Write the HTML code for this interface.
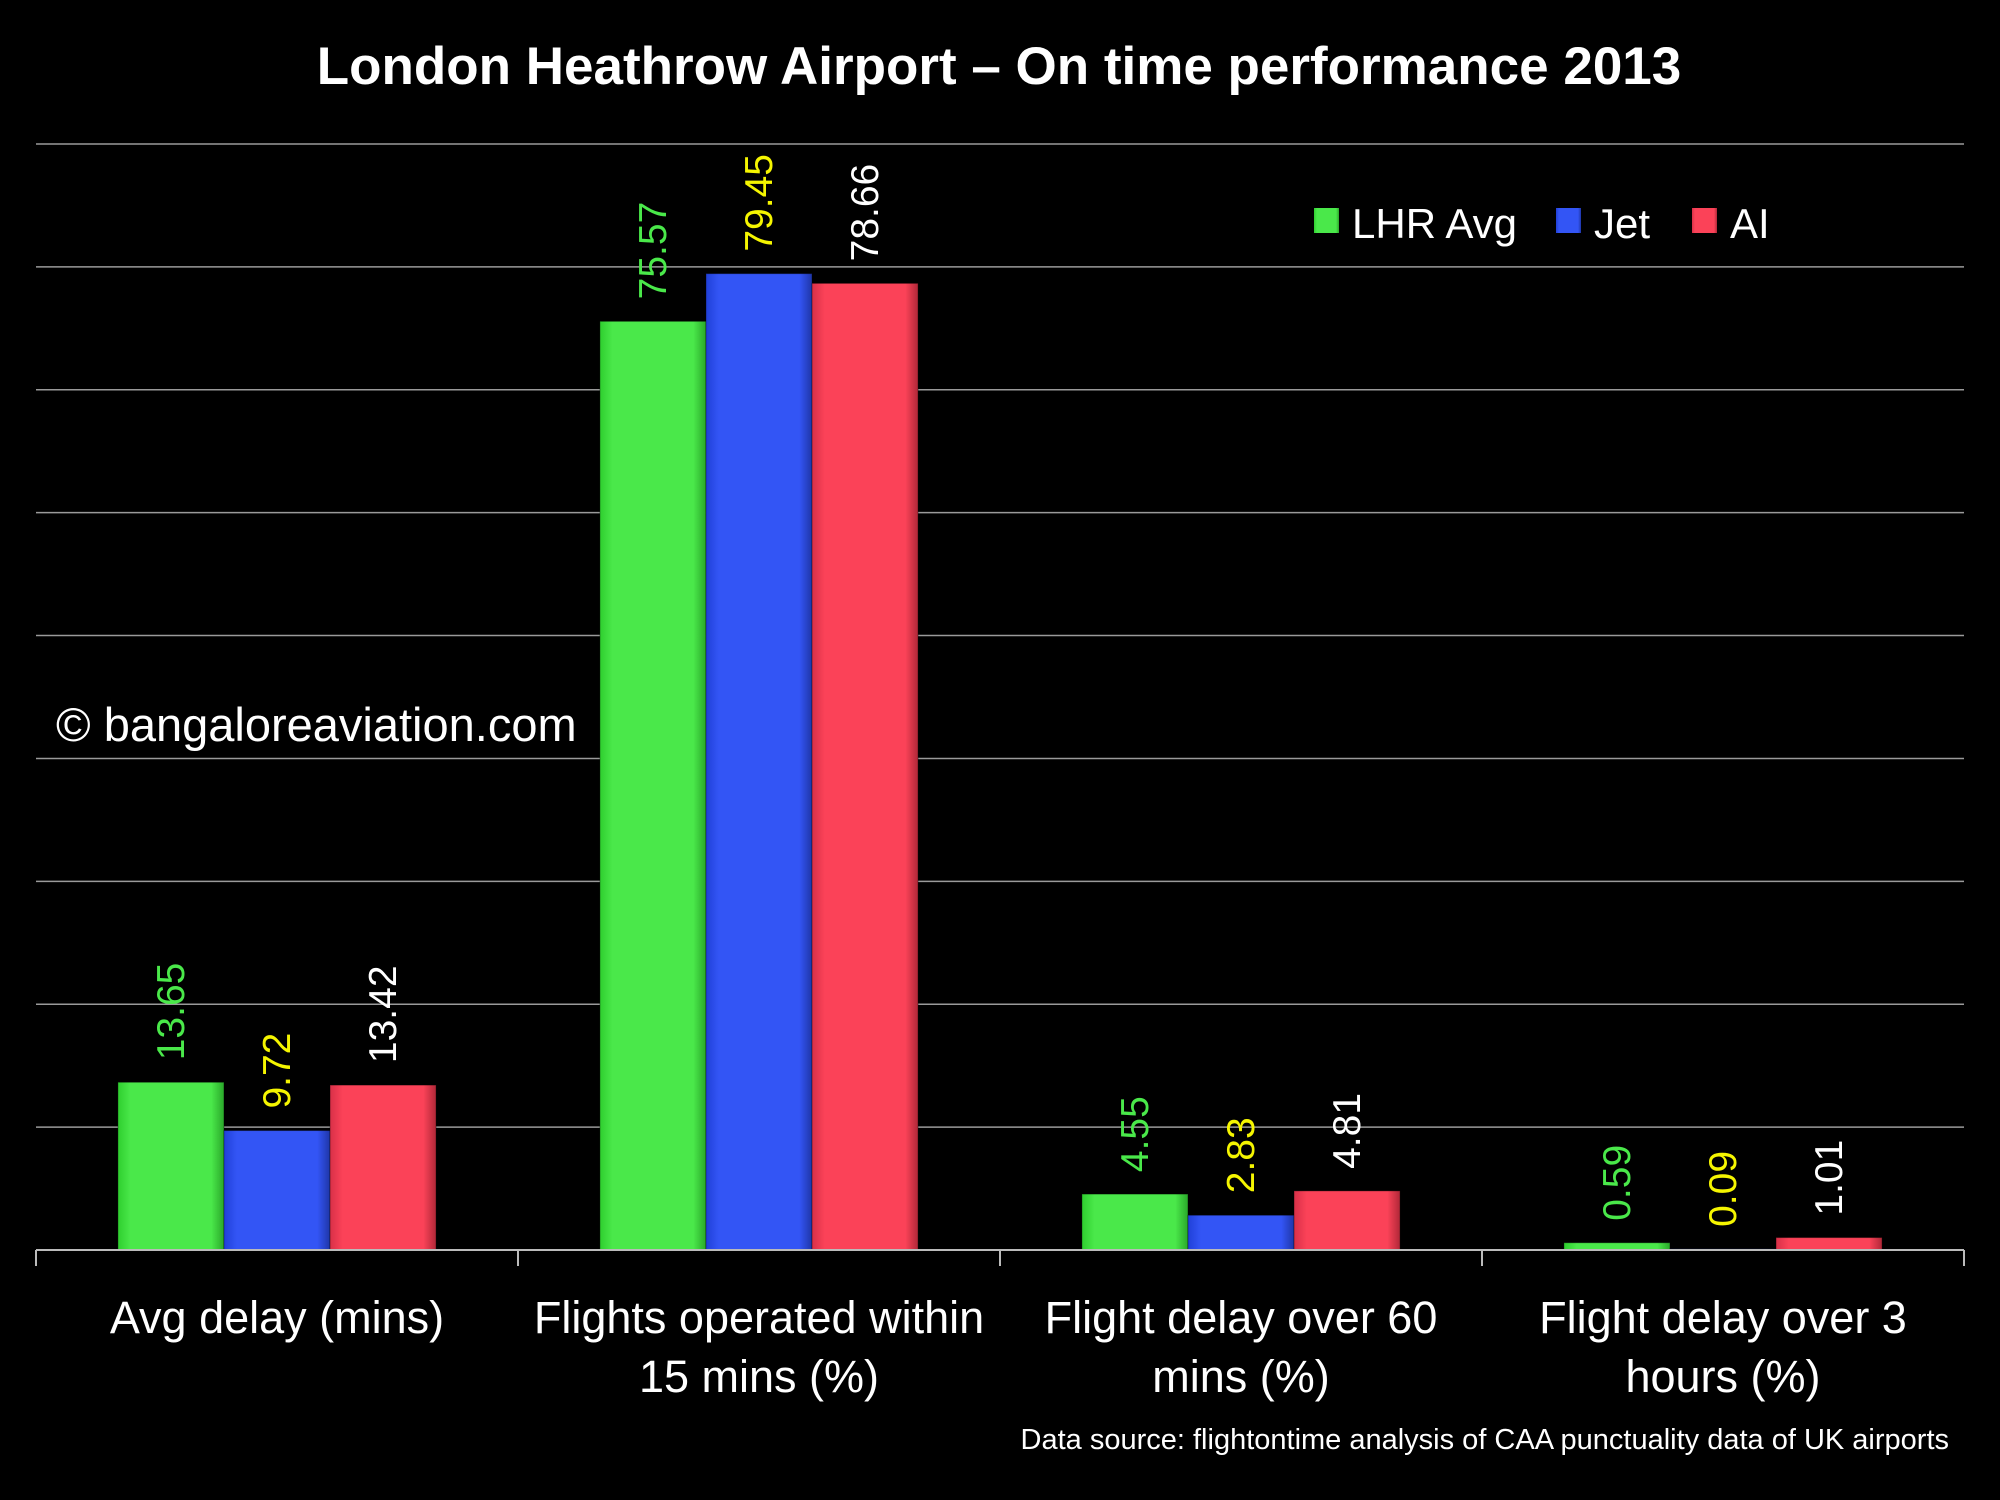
<!DOCTYPE html>
<html><head><meta charset="utf-8"><style>
body{margin:0;background:#000;}
svg{display:block;font-family:"Liberation Sans","DejaVu Sans",sans-serif;}
</style></head><body>
<svg id="chart" width="2000" height="1500" viewBox="0 0 2000 1500" xmlns="http://www.w3.org/2000/svg">
<defs>
<linearGradient id="gG" x1="0" x2="1"><stop offset="0" stop-color="#2fcf2f"/><stop offset="0.12" stop-color="#4ae84a"/><stop offset="0.88" stop-color="#4ae84a"/><stop offset="1" stop-color="#2aa82a"/></linearGradient>
<linearGradient id="gB" x1="0" x2="1"><stop offset="0" stop-color="#2040d8"/><stop offset="0.12" stop-color="#3355f5"/><stop offset="0.88" stop-color="#3355f5"/><stop offset="1" stop-color="#1f36a8"/></linearGradient>
<linearGradient id="gR" x1="0" x2="1"><stop offset="0" stop-color="#d83048"/><stop offset="0.12" stop-color="#fb4258"/><stop offset="0.88" stop-color="#fb4258"/><stop offset="1" stop-color="#b02838"/></linearGradient>
</defs>
<rect width="2000" height="1500" fill="#000"/>
<text x="999" y="84" text-anchor="middle" font-size="53" font-weight="bold" fill="#fff">London Heathrow Airport – On time performance 2013</text>
<g id="grid"></g>
<g id="bars"></g>
<g id="axis"></g>
<text x="56" y="741" font-size="47" fill="#fff">© bangaloreaviation.com</text>
<g>
<g><rect x="1314" y="208" width="25" height="25" fill="url(#gG)"/><text x="1352" y="238" font-size="42" fill="#fff">LHR Avg</text></g>
<g><rect x="1556" y="208" width="25" height="25" fill="url(#gB)"/><text x="1594" y="238" font-size="42" fill="#fff">Jet</text></g>
<g><rect x="1692" y="208" width="25" height="25" fill="url(#gR)"/><text x="1730" y="238" font-size="42" fill="#fff">AI</text></g>
</g>
<text x="1949" y="1449" text-anchor="end" font-size="29" fill="#fff">Data source: flightontime analysis of CAA punctuality data of UK airports</text>
</svg>
<script>
const categories=[["Avg delay (mins)"],["Flights operated within","15 mins (%)"],["Flight delay over 60","mins (%)"],["Flight delay over 3","hours (%)"]];
const lhrAvg=[13.65,75.57,4.55,0.59];
const jet=[9.72,79.45,2.83,0.09];
const ai=[13.42,78.66,4.81,1.01];
const valueLabels=[["13.65","75.57","4.55","0.59"],["9.72","79.45","2.83","0.09"],["13.42","78.66","4.81","1.01"]];
const yTicks=[0,10,20,30,40,50,60,70,80,90];
const NS="http://www.w3.org/2000/svg";
const x0=36,x1=1964,y0=1250,yTop=144,yMax=90;
const catW=(x1-x0)/categories.length;
function y(v){return y0-(v/yMax)*(y0-yTop);}
function xc(i){return x0+catW*(i+0.5);}
function mk(t,a,p){const e=document.createElementNS(NS,t);for(const k in a)e.setAttribute(k,a[k]);p.appendChild(e);return e;}
const grid=document.getElementById('grid');
yTicks.forEach(t=>{if(t===0)return;const l=mk('line',{x1:x0,x2:x1,y1:y(t),y2:y(t),stroke:'#9a9a9a','stroke-width':1.5},grid);

});
const axis=document.getElementById('axis');
const base=mk('line',{x1:x0,x2:x1,y1:y0,y2:y0,stroke:'#bbb','stroke-width':2},axis);


for(let i=0;i<=categories.length;i++){const tk=mk('line',{x1:x0+catW*i,x2:x0+catW*i,y1:y0,y2:y0+16,stroke:'#bbb','stroke-width':2},axis);

}
categories.forEach((c,i)=>{c.forEach((ln,j)=>{const t=mk('text',{x:xc(i),y:1333+j*59,'text-anchor':'middle','font-size':45,fill:'#fff'},axis);t.textContent=ln;

});});
const series=[lhrAvg,jet,ai],fills=['url(#gG)','url(#gB)','url(#gR)'],lc=['#4ae84a','#f5f500','#ffffff'],names=['lhr-avg','jet','ai'];
const bw=catW*0.22;
const bars=document.getElementById('bars');
series.forEach((s,k)=>{s.forEach((v,i)=>{const bx=xc(i)+(k-1.5)*bw;const r=mk('rect',{x:bx,y:y(v),width:bw,height:y0-y(v),fill:fills[k],stroke:'rgba(0,0,0,0.35)','stroke-width':1},bars);


const cx=bx+bw/2+13,ty=y(v)-22;const t=mk('text',{x:cx,y:ty,transform:`rotate(-90 ${cx} ${ty})`,'font-size':39,fill:lc[k]},bars);t.textContent=valueLabels[k][i];

});});
</script>
</body></html>
